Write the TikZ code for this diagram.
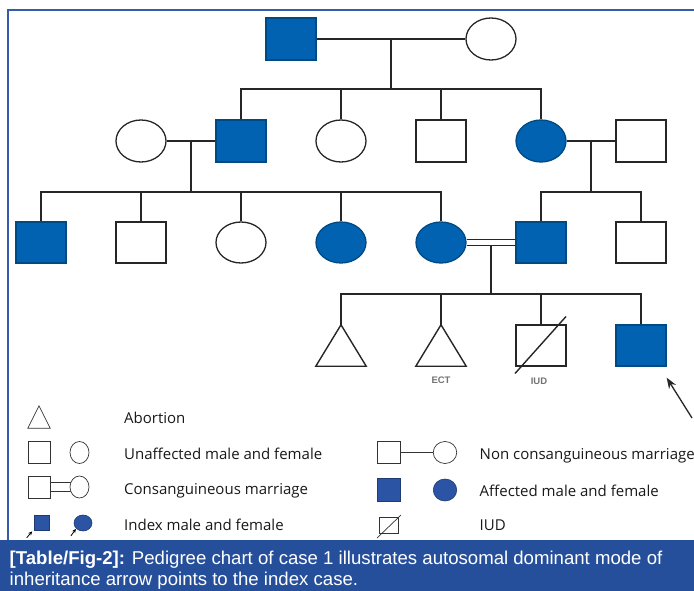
\documentclass[tikz,border=0pt]{standalone}
\usepackage{fontspec}
\setmainfont{Open Sans}
\newfontfamily\capfont{Liberation Sans}
\usetikzlibrary{shapes.geometric,calc,arrows.meta}
\definecolor{pedblue}{RGB}{0,98,176}
\definecolor{legblue}{RGB}{44,84,164}
\definecolor{bandblue}{RGB}{38,79,155}
\definecolor{frameblue}{RGB}{52,92,170}
\begin{document}
\begin{tikzpicture}[x=1pt,y=-1pt,
  male/.style={rectangle,draw=black!85,line width=1.3pt,minimum width=50pt,minimum height=42pt,inner sep=0pt},
  female/.style={ellipse,draw=black!85,line width=1.3pt,minimum width=50pt,minimum height=42pt,inner sep=0pt},
  aff/.style={fill=pedblue,draw=pedblue!75!black},
  trinode/.style={rectangle,minimum width=50pt,minimum height=42pt,inner sep=0pt},
  link/.style={line width=1.4pt,draw=black!85},
  lg/.style={draw=black!80,line width=0.7pt},
  laff/.style={fill=legblue,draw=legblue!70!black},
  ltxt/.style={anchor=base west,inner sep=0pt,font=\fontsize{15}{18}\selectfont,text=black!90},
  smalllbl/.style={inner sep=0pt,font=\capfont\bfseries\fontsize{9.5}{11}\selectfont,text=black!55},
  captxt/.style={anchor=base west,inner sep=0pt,text=white,font=\capfont\fontsize{18.6}{22}\selectfont}
]
\useasboundingbox (0,0) rectangle (694,591);
\fill[white] (0,0) rectangle (694,591);
% frame
\draw[frameblue,line width=1.5pt] (8,540) -- (8,10) -- (694,10);
% caption band
\fill[bandblue] (0,540) rectangle (694,591);
\node[captxt] (cap1) at (9.5,564) {\textbf{[Table/Fig-2]:} Pedigree chart of case 1 illustrates autosomal dominant mode of};
\node[captxt] (cap2) at (9.5,585) {inheritance arrow points to the index case.};

% Generation I
\node[male,aff] (I1) at (291,39) {};
\node[female] (I2) at (491,39) {};
% Generation II
\node[female] (II1) at (141,141) {};
\node[male,aff] (II2) at (241,141) {};
\node[female] (II3) at (341,141) {};
\node[male] (II4) at (441,141) {};
\node[female,aff] (II5) at (541,141) {};
\node[male] (II6) at (641,141) {};
% Generation III
\node[male,aff,minimum height=41pt] (III1) at (41,242.5) {};
\node[male,minimum height=41pt] (III2) at (141,242.5) {};
\node[female,minimum height=41pt] (III3) at (241,242.5) {};
\node[female,aff,minimum height=41pt] (III4) at (341,242.5) {};
\node[female,aff,minimum height=41pt] (III5) at (441,242.5) {};
\node[male,aff,minimum height=41pt] (III6) at (541,242.5) {};
\node[male,minimum height=41pt] (III7) at (641,242.5) {};
% Generation IV
\node[trinode,minimum height=41pt] (IV1) at (341,345.5) {};
\node[trinode,minimum height=41pt] (IV2) at (441,345.5) {};
\node[male,minimum height=41pt] (IV3) at (541,345.5) {};
\node[male,aff,minimum height=41pt] (IV4) at (641,345.5) {};
\draw[link,line join=miter] (IV1.north) -- (IV1.south west) -- (IV1.south east) -- cycle;
\draw[link,line join=miter] (IV2.north) -- (IV2.south west) -- (IV2.south east) -- cycle;
\draw[link] ($(IV3.center)+(-26,28)$) -- ($(IV3.center)+(25,-29)$);
\node[smalllbl] (ect) at ($(IV2.south)+(0,14.5)$) {ECT};
\node[smalllbl] (iud) at ($(IV3.south)+(-2,14.5)$) {IUD};

% Gen I marriage and sibship
\draw[link] (I1.east) -- coordinate[midway] (m1) (I2.west);
\coordinate (s1) at ($(m1)+(0,50)$);
\draw[link] (m1) -- (s1);
\draw[link] (II2.north) -- (II2.north |- s1) -- (II5.north |- s1) -- (II5.north);
\draw[link] (II3.north) -- (II3.north |- s1);
\draw[link] (II4.north) -- (II4.north |- s1);

% Gen II left marriage
\draw[link] (II1.east) -- coordinate[midway] (m2) (II2.west);
\coordinate (s2) at ($(m2)+(0,51)$);
\draw[link] (m2) -- (s2);
\draw[link] (III1.north) -- (III1.north |- s2) -- (III5.north |- s2) -- (III5.north);
\draw[link] (III2.north) -- (III2.north |- s2);
\draw[link] (III3.north) -- (III3.north |- s2);
\draw[link] (III4.north) -- (III4.north |- s2);

% Gen II right marriage
\draw[link] (II5.east) -- coordinate[midway] (m3) (II6.west);
\coordinate (s3) at ($(m3)+(0,51)$);
\draw[link] (m3) -- (s3);
\draw[link] (III6.north) -- (III6.north |- s3) -- (III7.north |- s3) -- (III7.north);

% Gen III consanguineous marriage
\coordinate (m4) at ($(III5.east)!0.5!(III6.west)$);
\coordinate (s4) at ($(m4)+(0,51.5)$);
\draw[link] (m4) -- (s4);
\draw[link,double=white,double distance=4.6pt] (III5.east) -- (III6.west);
\draw[link] (IV1.north) -- (IV1.north |- s4) -- (IV4.north |- s4) -- (IV4.north);
\draw[link] (IV2.north) -- (IV2.north |- s4);
\draw[link] (IV3.north) -- (IV3.north |- s4);

% index arrow
\coordinate (arrtail) at (692,418);
\draw[line width=1.3pt,black!85,-{Stealth[length=11pt,width=8pt]}] (arrtail) -- ($(IV4.south east)+(0,11)$);

% Legend left column
\node[rectangle,minimum width=22pt,minimum height=22pt,inner sep=0pt] (Ltri) at (39,417) {};
\draw[lg,line join=miter] (Ltri.north) -- (Ltri.south west) -- (Ltri.south east) -- cycle;
\node[ltxt] (t1) at (124,423) {Abortion};

\node[rectangle,lg,minimum width=22pt,minimum height=22pt,inner sep=0pt] (Lm1) at (39,452.5) {};
\node[ellipse,lg,minimum width=19pt,minimum height=22pt,inner sep=0pt] (Lf1) at (79.5,452.5) {};
\node[ltxt] (t2) at (124,459) {Unaffected male and female};

\draw[lg,double=white,double distance=8.5pt] (50,487) -- (70.5,487);
\node[rectangle,lg,fill=white,minimum width=22pt,minimum height=22pt,inner sep=0pt] (Lm2) at (39,487) {};
\node[ellipse,lg,fill=white,minimum width=19pt,minimum height=22pt,inner sep=0pt] (Lf2) at (79.5,487) {};
\node[ltxt] (t3) at (124,494) {Consanguineous marriage};

\node[rectangle,laff,line width=0.6pt,minimum width=15pt,minimum height=15pt,inner sep=0pt] (Lm3) at (41.5,523) {};
\draw[line width=0.8pt,black,-{Stealth[length=4pt,width=3.5pt]}] ($(Lm3.south west)+(-7,7)$) -- ($(Lm3.south west)+(-1.5,0.5)$);
\node[ellipse,laff,line width=0.6pt,minimum width=18pt,minimum height=16pt,inner sep=0pt] (Lf3) at (83,523) {};
\draw[line width=0.8pt,black,-{Stealth[length=4pt,width=3.5pt]}] ($(Lf3.south west)+(-5.5,7)$) -- ($(Lf3.south west)+(-0.5,0)$);
\node[ltxt] (t4) at (124,530) {Index male and female};

% Legend right column
\node[rectangle,lg,minimum width=23pt,minimum height=22pt,inner sep=0pt] (Rm1) at (388.5,452.5) {};
\node[ellipse,lg,minimum width=23.5pt,minimum height=22pt,inner sep=0pt] (Rf1) at (445,452.5) {};
\draw[lg] (Rm1.east) -- (Rf1.west);
\node[ltxt] (t5) at (479.5,459.5) {Non consanguineous marriage};

\node[rectangle,laff,line width=0.6pt,minimum width=23pt,minimum height=23pt,inner sep=0pt] (Rm2) at (388.5,490) {};
\node[ellipse,laff,line width=0.6pt,minimum width=23.5pt,minimum height=22pt,inner sep=0pt] (Rf2) at (445,490) {};
\node[ltxt] (t6) at (479.5,496) {Affected male and female};

\node[rectangle,lg,minimum width=19pt,minimum height=16pt,inner sep=0pt] (Rm3) at (388.5,525) {};
\draw[lg] ($(Rm3.center)+(-11.5,13)$) -- ($(Rm3.center)+(12.5,-10)$);
\node[ltxt] (t7) at (479.5,530) {IUD};
\end{tikzpicture}
\end{document}
